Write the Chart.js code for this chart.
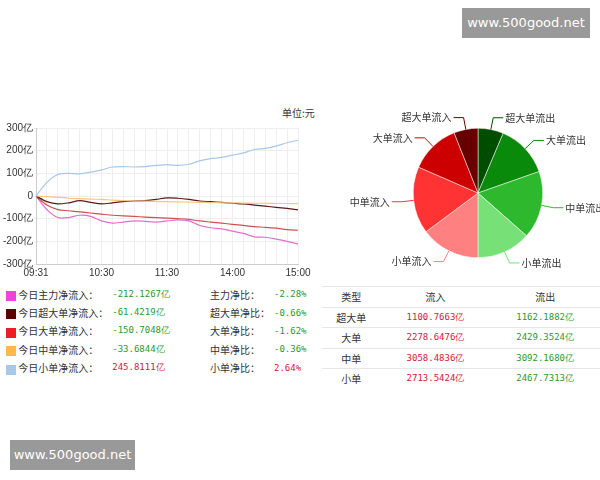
<!DOCTYPE html>
<html><head><meta charset="utf-8">
<script src="https://cdn.jsdelivr.net/npm/chart.js@4"></script>
<style>
body{margin:0;width:600px;height:480px;background:#fff;font-family:"Noto Sans CJK SC",sans-serif;position:relative;overflow:hidden}
.wm{position:absolute;background:#999;color:#fff;font-family:"DejaVu Sans";font-size:13px;text-align:center;line-height:30px}
#lineBox{position:absolute;left:2px;top:121px;width:316px;height:161px}
#pieBox{position:absolute;left:340px;top:100px;width:260px;height:170px}
.unit{position:absolute;left:282px;top:105px;font-size:10px;color:#333}
.leg{position:absolute;left:4px;top:285px;font-size:10px;color:#333;border-collapse:collapse}
.leg td{height:18.4px;padding:0 2px}
.sw{display:inline-block;width:10px;height:10px;vertical-align:middle}
.g{color:#2a9a2a;font-family:"DejaVu Sans Mono";font-size:9px}
.r{color:#d0203a;font-family:"DejaVu Sans Mono";font-size:9px}
.tb{position:absolute;left:322px;top:286px;width:278px;font-size:10px;color:#333;border-collapse:collapse}
.tb td{height:17.5px;border-top:1px solid #e6e6e6;text-align:center}
</style></head><body>
<div class="wm" style="left:462px;top:8px;width:128px">www.500good.net</div>
<div class="wm" style="left:10px;top:440px;width:125px">www.500good.net</div>
<div class="unit">单位:元</div>
<div id="lineBox"><canvas id="line"></canvas></div>
<div id="pieBox"><canvas id="pie"></canvas></div>
<table class="leg">
<tr><td><span class="sw" style="background:#ee44dd"></span> 今日主力净流入：</td><td class="g">-212.1267亿</td><td style="padding-left:38px">主力净比：</td><td class="g">-2.28%</td></tr>
<tr><td><span class="sw" style="background:#5a0000"></span> 今日超大单净流入：</td><td class="g">-61.4219亿</td><td style="padding-left:38px">超大单净比：</td><td class="g">-0.66%</td></tr>
<tr><td><span class="sw" style="background:#ee1c24"></span> 今日大单净流入：</td><td class="g">-150.7048亿</td><td style="padding-left:38px">大单净比：</td><td class="g">-1.62%</td></tr>
<tr><td><span class="sw" style="background:#ffb84d"></span> 今日中单净流入：</td><td class="g">-33.6844亿</td><td style="padding-left:38px">中单净比：</td><td class="g">-0.36%</td></tr>
<tr><td><span class="sw" style="background:#a8c8e8"></span> 今日小单净流入：</td><td class="r">245.8111亿</td><td style="padding-left:38px">小单净比：</td><td class="r">2.64%</td></tr>
</table>
<table class="tb">
<tr><td>类型</td><td>流入</td><td>流出</td></tr>
<tr><td>超大单</td><td class="r">1100.7663亿</td><td class="g">1162.1882亿</td></tr>
<tr><td>大单</td><td class="r">2278.6476亿</td><td class="g">2429.3524亿</td></tr>
<tr><td>中单</td><td class="r">3058.4836亿</td><td class="g">3092.1680亿</td></tr>
<tr><td>小单</td><td class="r">2713.5424亿</td><td class="g">2467.7313亿</td></tr>
</table>
<script>
// time axis: 25 samples, labelled every 6th
const times = ['09:31','','','','','','10:30','','','','','','11:30','','','','','','14:00','','','','','','15:00'];
const mainFlow  = [0,-60,-95,-95,-85,-90,-110,-120,-115,-110,-112,-115,-110,-105,-110,-130,-140,-145,-155,-165,-180,-182,-190,-200,-212];
const superFlow = [0,-25,-35,-30,-20,-28,-35,-30,-25,-22,-20,-15,-8,-10,-15,-22,-25,-28,-32,-35,-40,-45,-50,-55,-61];
const largeFlow = [0,-40,-60,-65,-70,-75,-80,-85,-88,-90,-93,-95,-98,-100,-103,-110,-115,-120,-125,-130,-135,-138,-142,-148,-151];
const midFlow   = [0,-3,-5,-10,-12,-14,-15,-18,-20,-22,-23,-24,-25,-26,-27,-28,-29,-30,-30,-31,-32,-32,-33,-33,-34];
const smallFlow = [0,60,95,100,98,105,115,128,130,128,130,135,138,135,140,155,165,170,180,190,205,210,220,235,246];
const yTicks = [-300,-200,-100,0,100,200,300];

const pieLabels = ['超大单流出','大单流出','中单流出','小单流出','小单流入','中单流入','大单流入','超大单流入'];
const pieValues = [1162.1882,2429.3524,3092.1680,2467.7313,2713.5424,3058.4836,2278.6476,1100.7663];
const pieColors = ['#004d00','#0a8a0a','#2db82d','#77e077','#ff8080','#ff3333','#cc0000','#660000'];

const mk = (d, c) => ({ data: d, borderColor: c, borderWidth: 1.2, pointRadius: 0, tension: 0.3, fill: false });
new Chart(document.getElementById('line'), {
  type: 'line',
  data: { labels: times, datasets: [mk(smallFlow,'#a8c8e8'), mk(midFlow,'#f5c77a'), mk(superFlow,'#5a1a1a'), mk(largeFlow,'#d05050'), mk(mainFlow,'#e070d0')] },
  options: {
    responsive: true, maintainAspectRatio: false, animation: false,
    layout: { padding: { right: 20, top: 4 } },
    plugins: { legend: { display: false }, tooltip: { enabled: false } },
    scales: {
      x: { grid: { color: '#eee', tickLength: 0 }, border: { color: '#ccc' },
           ticks: { autoSkip: false, maxRotation: 0, color: '#333', font: { size: 10 } } },
      y: { min: -300, max: 300, afterBuildTicks: a => { a.ticks = yTicks.map(v => ({ value: v })); },
           grid: { color: '#eee', tickLength: 2 }, border: { color: '#ccc' },
           ticks: { color: '#333', font: { size: 10 }, padding: 1, callback: v => v === 0 ? '0' : v + '亿' } }
    }
  }
});

// outside labels with leader lines
const leader = {
  id: 'leader',
  afterDatasetsDraw(chart) {
    const ctx = chart.ctx;
    chart.getDatasetMeta(0).data.forEach((arc, i) => {
      const a = (arc.startAngle + arc.endAngle) / 2, r = arc.outerRadius;
      const cx = arc.x, cy = arc.y, cos = Math.cos(a), sin = Math.sin(a);
      const x1 = cx + cos * r, y1 = cy + sin * r;
      const x2 = cx + cos * (r + 12), y2 = cy + sin * (r + 12);
      const right = cos >= 0, x3 = x2 + (right ? 10 : -10);
      ctx.save();
      ctx.strokeStyle = pieColors[i]; ctx.lineWidth = 1;
      ctx.beginPath(); ctx.moveTo(x1, y1); ctx.lineTo(x2, y2); ctx.lineTo(x3, y2); ctx.stroke();
      ctx.fillStyle = '#333'; ctx.font = '10px "Noto Sans CJK SC"';
      ctx.textAlign = right ? 'left' : 'right'; ctx.textBaseline = 'middle';
      ctx.fillText(pieLabels[i], x3 + (right ? 2 : -2), y2);
      ctx.restore();
    });
  }
};
new Chart(document.getElementById('pie'), {
  type: 'pie',
  data: { labels: pieLabels, datasets: [{ data: pieValues, backgroundColor: pieColors, borderColor: '#fff', borderWidth: 0.5 }] },
  options: {
    responsive: true, maintainAspectRatio: false, animation: false,
    layout: { padding: { top: 28, bottom: 12, left: 73, right: 57 } },
    plugins: { legend: { display: false }, tooltip: { enabled: false } }
  },
  plugins: [leader]
});
</script>
</body></html>
